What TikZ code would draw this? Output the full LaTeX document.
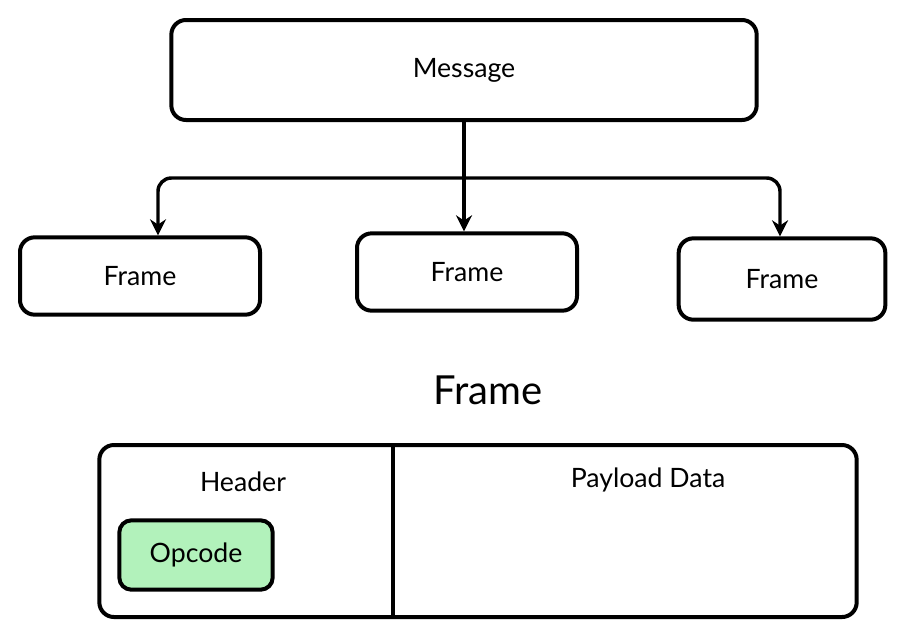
\documentclass[tikz,border=0pt]{standalone}
\usepackage{fontspec}
\setmainfont{Lato}
\usetikzlibrary{positioning,arrows.meta}
\definecolor{opgreen}{RGB}{178,242,187}

\begin{document}
\begin{tikzpicture}[x=0.75pt, y=-0.75pt,
    >={Stealth[length=12pt,width=12pt]},
    box/.style={draw, rounded corners=11pt, line width=3pt, font=\fontsize{20}{24}\selectfont},
    arrow/.style={->, line width=2.6pt, rounded corners=10pt},
  ]
  \useasboundingbox (0,0) rectangle (905,640);
  % Top
  \node[box, minimum width=439pt, minimum height=75pt] (msg) at (464,70) {Message};
  \node[box, minimum width=180pt, minimum height=58pt] (frA) at (140,276) {Frame};
  \node[box, minimum width=165pt, minimum height=58pt] (frB) at (467,272) {Frame};
  \node[box, minimum width=155pt, minimum height=61pt] (frC) at (782,279) {Frame};

  \coordinate (split) at (464,178);
  \draw[line width=2.6pt] (msg.south) -- (split);
  \draw[arrow] (split) -| (frA.north -| 158,0);
  \draw[arrow] (split) -- (frB.north -| 464,0);
  \draw[arrow] (split) -| (frC.north -| 780,0);

  % Frame layout
  \node[font=\fontsize{30}{36}\selectfont] (title) at (488,390) {Frame};
  \node[box, minimum width=568pt, minimum height=129pt] (frame) at (478,531) {};
  \coordinate (divtop) at (393,445);
  \coordinate (divbot) at (393,617);
  \draw[line width=3pt] (divtop) -- (divbot);
  \node[font=\fontsize{20}{24}\selectfont] (header) at (243,482) {Header};
  \node[font=\fontsize{20}{24}\selectfont] (payload) at (648,480) {Payload Data};
  \node[box, fill=opgreen, rounded corners=9pt, minimum width=115pt, minimum height=52pt]
    (opcode) at (196,555) {Opcode};
\end{tikzpicture}
\end{document}
